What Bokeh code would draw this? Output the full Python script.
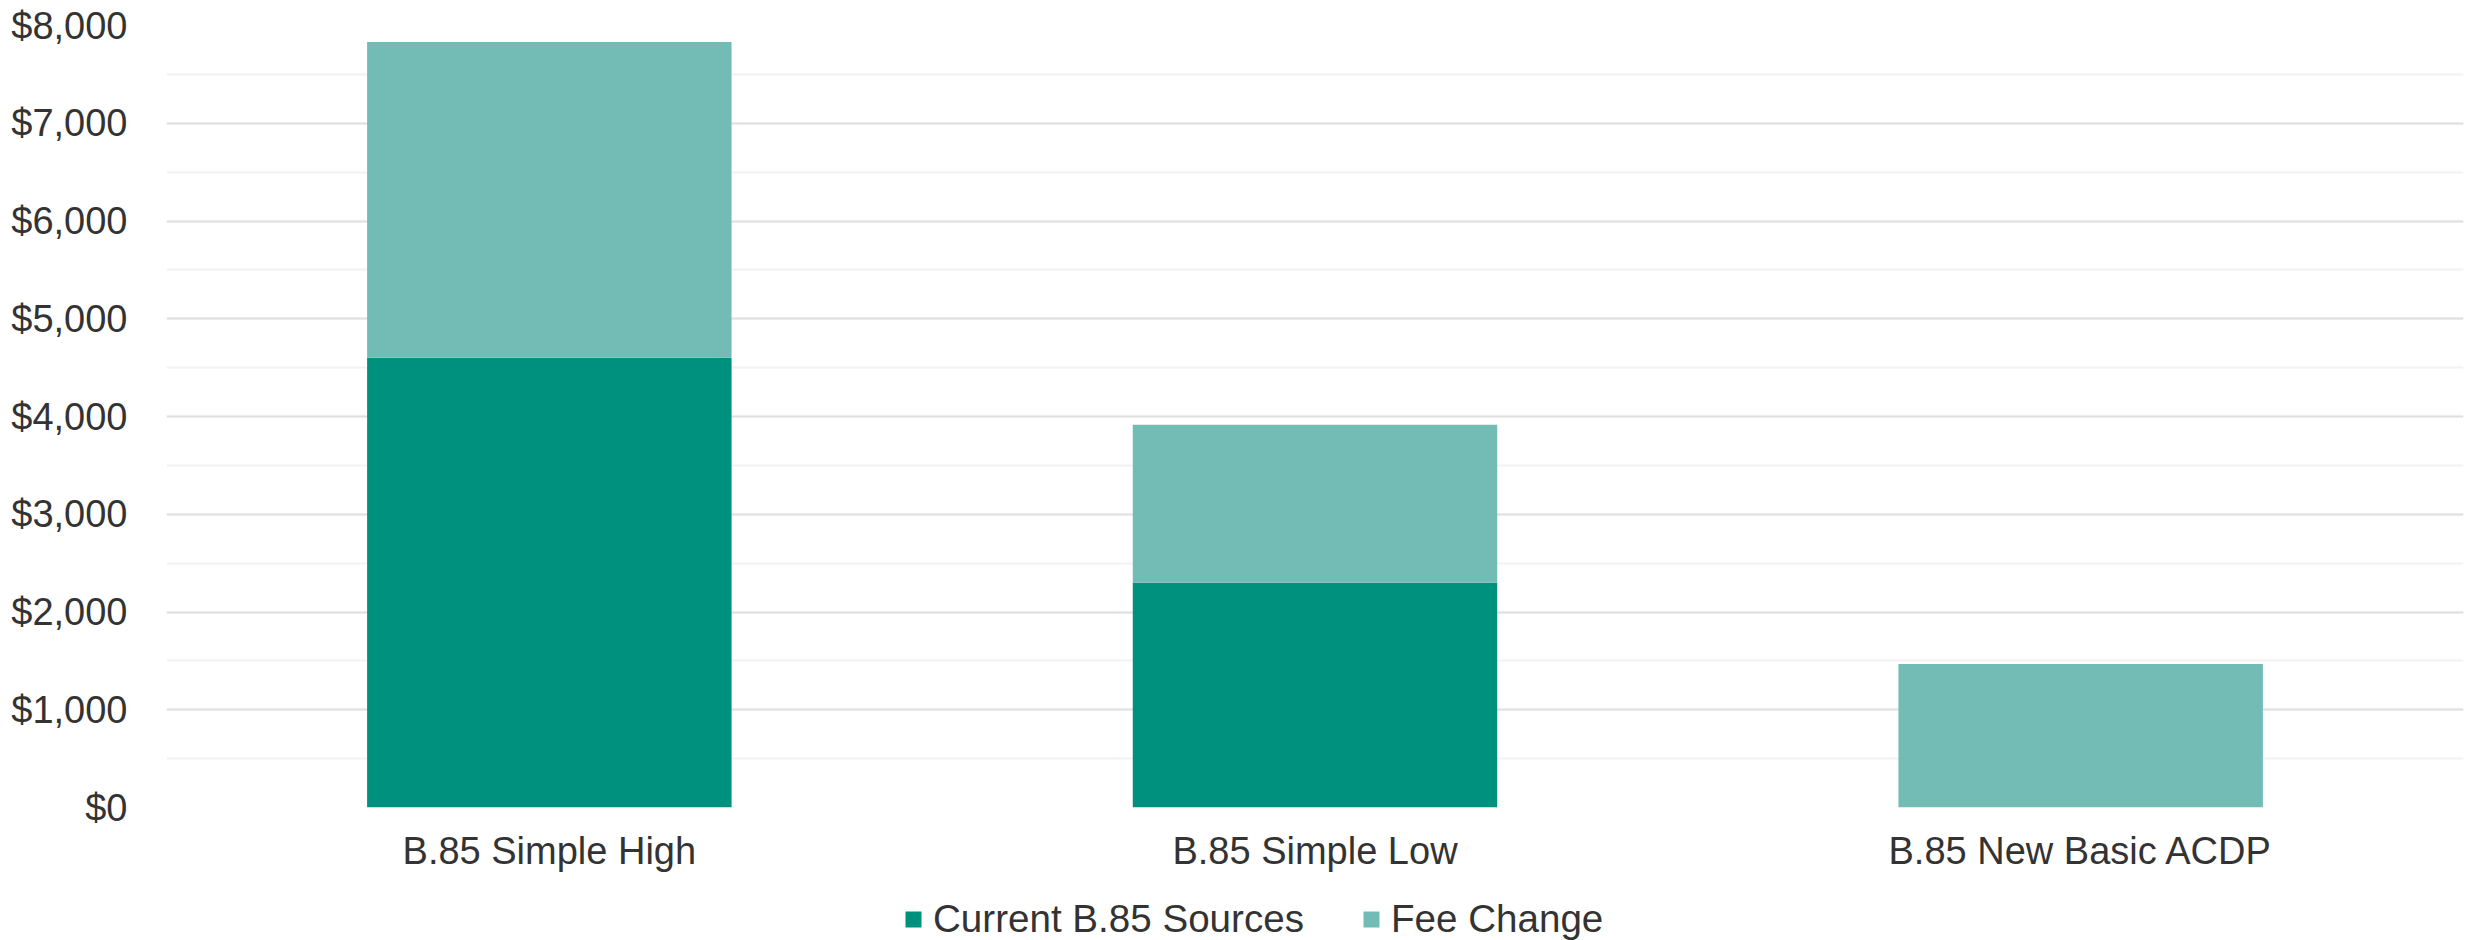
from bokeh.plotting import figure
from bokeh.layouts import column
from bokeh.models import (ColumnDataSource, FactorRange, Range1d, NumeralTickFormatter,
                          SingleIntervalTicker, Legend, LegendItem)
from bokeh.embed import file_html
from bokeh.resources import INLINE

categories = ["B.85 Simple High", "B.85 Simple Low", "B.85 New Basic ACDP"]
current_sources = [4600, 2300, 0]
fee_change = [3230, 1615, 1467]
series_names = ["Current B.85 Sources", "Fee Change"]
colors = ["#00917e", "#72bcb5"]

FONT = "Liberation Sans"
W = 2474
MAIN_H = 880
LEG_H = 60

source = ColumnDataSource(dict(cat=categories, current=current_sources, fee=fee_change))

p = figure(width=W, height=MAIN_H, x_range=FactorRange(*categories), y_range=Range1d(0, 8000),
           output_backend="svg", toolbar_location=None,
           min_border_left=166, min_border_right=11, min_border_top=25, min_border_bottom=73)
p.x_range.range_padding = 0
p.outline_line_color = None

renderers = p.vbar_stack(["current", "fee"], x="cat", width=0.476, color=colors,
                         line_color=None, source=source)

p.yaxis.ticker = SingleIntervalTicker(interval=1000, num_minor_ticks=2)
p.yaxis.formatter = NumeralTickFormatter(format="$0,0")
for ax in (p.xaxis[0], p.yaxis[0]):
    ax.axis_line_color = None
    ax.major_tick_line_color = None
    ax.minor_tick_line_color = None
    ax.major_label_text_font = FONT
    ax.major_label_text_font_size = "38px"
    ax.major_label_text_color = "#333333"
p.yaxis.major_label_standoff = 35
p.xaxis.major_label_standoff = 22
p.xaxis.major_tick_out = 0
p.yaxis.major_tick_out = 0

p.xgrid.grid_line_color = None
p.ygrid.grid_line_color = "#e0e0e0"
p.ygrid.grid_line_width = 2
p.ygrid.minor_grid_line_color = "#f2f2f2"
p.ygrid.minor_grid_line_width = 2

# legend strip below the chart (its glyphs are legend swatches only, kept outside the visible range)
pl = figure(width=W, height=LEG_H, x_range=Range1d(0, 1), y_range=Range1d(0, 1),
            output_backend="svg", toolbar_location=None,
            x_axis_location=None, y_axis_location=None, min_border=0)
pl.outline_line_color = None
pl.grid.visible = False
leg_src = ColumnDataSource(dict(x=[-5], top=[0]))
leg_renderers = [pl.vbar(x="x", top="top", width=0.1, color=c, line_color=None, source=leg_src)
                 for c in colors]
legend = Legend(items=[LegendItem(label=series_names[i], renderers=[leg_renderers[i]]) for i in range(2)],
                orientation="horizontal", location=(737, -1),
                glyph_width=20, glyph_height=20, label_standoff=10, spacing=57,
                label_text_font=FONT, label_text_font_size="38.6px", label_text_color="#333333",
                border_line_color=None, background_fill_alpha=0, padding=0, margin=0)
pl.add_layout(legend, "center")

layout = column(p, pl, spacing=0)
open("out.html", "w").write(file_html(layout, INLINE))
